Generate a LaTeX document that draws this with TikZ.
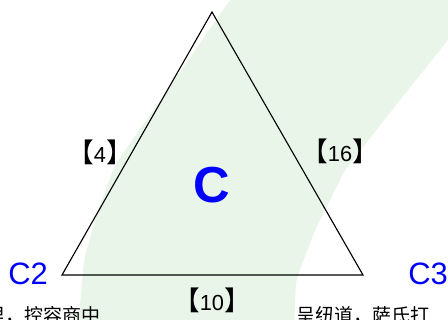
\documentclass[tikz,border=0pt]{standalone}
\usepackage{fontspec}
\setmainfont{Liberation Sans}
\newfontfamily\cjk{Noto Sans CJK SC}
\usepackage{xcolor}
\usetikzlibrary{positioning, calc}
\definecolor{band-green}{RGB}{234,245,234}
\definecolor{label-blue}{RGB}{0,0,255}
\newcommand{\brk}[1]{{\cjk\fontsize{19}{22}\selectfont 【}#1{\cjk\fontsize{19}{22}\selectfont 】}}

\tikzset{
  cornerlabel/.style={text=label-blue, inner sep=0pt, font=\fontsize{22}{26}\selectfont},
  sidelabel/.style={text=black, inner sep=0pt, font=\fontsize{15.5}{18}\selectfont},
  notetext/.style={text=black, inner sep=0pt, anchor=base west, font=\cjk\fontsize{13.5}{16}\selectfont}
}

\begin{document}
\begin{tikzpicture}
  \useasboundingbox (0,0) rectangle (11.2,8);
  \fill[white] (0,0) rectangle (11.2,8);

  % background band
  \fill[band-green, rounded corners=5pt] (6.1,8.5) -- (12,8.5) -- (12,8) -- (10,5.5) -- (8.625,3.75)
    -- (7.875,2.25) -- (7.4,1.0) -- (7.35,-0.2) -- (1.95,-0.2) -- (2.1,1.5) -- (2.4,2.6) -- (2.875,3.875) -- cycle;

  % triangle
  \coordinate (apex) at (5.3,7.7);
  \coordinate (bl) at (1.55,1.125);
  \coordinate (br) at (9.075,1.125);
  \draw[line width=0.8pt, line join=miter] (apex) -- (bl) -- (br) -- cycle;

  % corner labels
  \node[cornerlabel, anchor=west] (c2) at (0.2,1.15) {C2};
  \node[cornerlabel, anchor=west] (c3) at (10.2,1.15) {C3};
  \node[text=label-blue, inner sep=0pt, font=\fontsize{36}{40}\selectfont\bfseries] (cmain) at (5.3,3.375) {C};

  % side labels
  \node[sidelabel] (e4) at (2.5,4.2) {\brk{4}};
  \node[sidelabel] (e16) at (8.5,4.225) {\brk{16}};
  \node[sidelabel] (e10) at (5.3,0.5) {\brk{10}};

  % cut-off text below
  \node[notetext] (noteleft) at (-0.35,-0.075) {里，控容商中};
  \node[notetext] (noteright) at (7.4,-0.075) {呈纽道，萨氏打};
\end{tikzpicture}
\end{document}
